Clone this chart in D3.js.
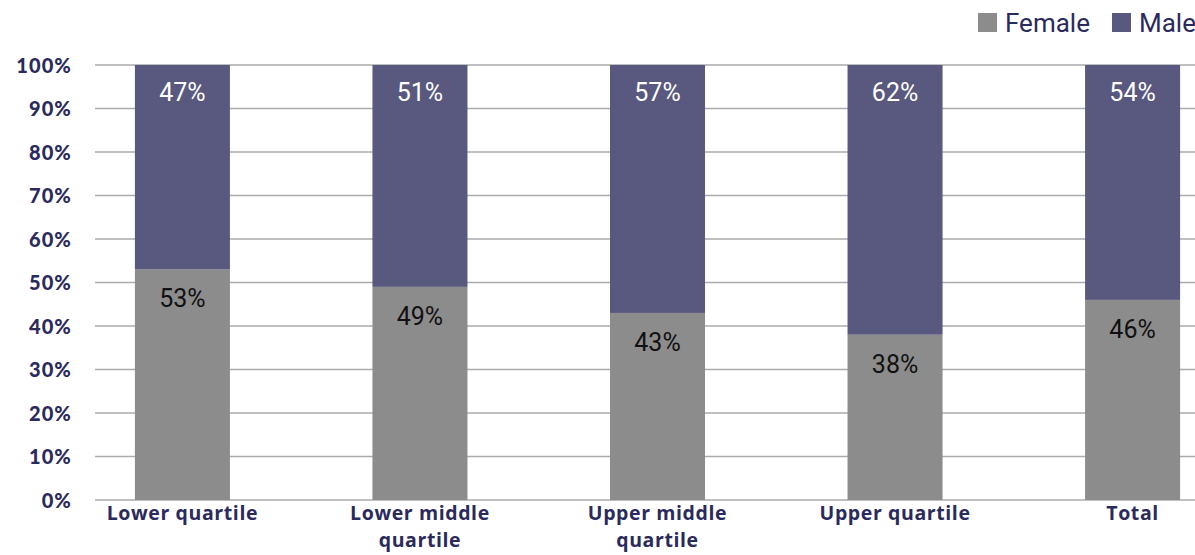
<!DOCTYPE html>
<html><head><meta charset="utf-8">
<script src="https://cdn.jsdelivr.net/npm/d3@7"></script>
<style>body{margin:0;background:#fff;overflow:hidden}</style>
</head><body>
<svg id="chart" width="1195" height="555"></svg>
<script>
const categories = [["Lower quartile"],["Lower middle","quartile"],["Upper middle","quartile"],["Upper quartile"],["Total"]];
const female = [53, 49, 43, 38, 46];
const male = [47, 51, 57, 62, 54];
const yTicks = [0,10,20,30,40,50,60,70,80,90,100];
const seriesNames = ["Female","Male"];
const colors = {Female:"#8c8c8c", Male:"#59587f"};
const navy = "#2b2a5c";

const svg = d3.select("#chart");
const x = d3.scaleBand().domain(d3.range(categories.length)).range([95,1220]).paddingInner(0.6).paddingOuter(0.168);
const y = d3.scaleLinear().domain([0,100]).range([500,65]);

// grid
svg.append("g").selectAll("line").data(yTicks).join("line")
  .attr("x1",95).attr("x2",1195).attr("y1",d=>y(d)).attr("y2",d=>y(d))
  .attr("stroke","#ababab").attr("stroke-width",1.5);

// y axis labels
const yAxis = d3.axisLeft(y).tickValues(yTicks).tickFormat(d=>d+"%").tickSize(0).tickPadding(0);
const ya = svg.append("g").attr("transform","translate(72,0)").call(yAxis);
ya.select(".domain").remove();
ya.selectAll("text").attr("font-family","Lato, sans-serif").attr("font-weight","900")
  .attr("font-size","20px").attr("fill",navy).attr("letter-spacing","1.1px").attr("dy","0.35em");

// bars
const stacked = categories.map((c,i)=>({i, f:female[i], m:male[i]}));
svg.append("g").selectAll("rect.f").data(stacked).join("rect")
  .attr("x",d=>x(d.i)).attr("width",x.bandwidth())
  .attr("y",d=>y(d.f)).attr("height",d=>y(0)-y(d.f)).attr("fill",colors.Female);
svg.append("g").selectAll("rect.m").data(stacked).join("rect")
  .attr("x",d=>x(d.i)).attr("width",x.bandwidth())
  .attr("y",d=>y(d.f+d.m)).attr("height",d=>y(d.f)-y(d.f+d.m)).attr("fill",colors.Male);

// value labels
svg.append("g").selectAll("text").data(stacked).join("text")
  .attr("x",d=>x(d.i)+x.bandwidth()/2).attr("y",d=>y(d.f+d.m)+36)
  .attr("text-anchor","middle").attr("font-family","Roboto, sans-serif").attr("font-size","25px")
  .attr("fill","#fff").text(d=>d.m+"%");
svg.append("g").selectAll("text").data(stacked).join("text")
  .attr("x",d=>x(d.i)+x.bandwidth()/2).attr("y",d=>y(d.f)+38)
  .attr("text-anchor","middle").attr("font-family","Roboto, sans-serif").attr("font-size","25px")
  .attr("fill","#111").text(d=>d.f+"%");

// category labels
const cg = svg.append("g").selectAll("text").data(categories).join("text")
  .attr("x",(d,i)=>x(i)+x.bandwidth()/2).attr("y",520)
  .attr("text-anchor","middle").attr("font-family","'Open Sans', sans-serif").attr("font-weight","700")
  .attr("font-size","19.5px").attr("letter-spacing","0.6px").attr("fill",navy);
cg.selectAll("tspan").data(d=>d).join("tspan")
  .attr("x",function(){return this.parentNode.getAttribute("x");})
  .attr("dy",(d,j)=>j===0?0:27).text(d=>d);

// legend
const legX = [978, 1112];
const lg = svg.append("g").selectAll("g").data(seriesNames).join("g")
  .attr("transform",(d,i)=>`translate(${legX[i]},13)`);
lg.append("rect").attr("width",19).attr("height",19).attr("y",0).attr("fill",d=>colors[d]);
lg.append("text").attr("x",27).attr("y",19).attr("font-family","Roboto, sans-serif")
  .attr("font-size","26px").attr("fill",navy).text(d=>d);
</script>
</body></html>
